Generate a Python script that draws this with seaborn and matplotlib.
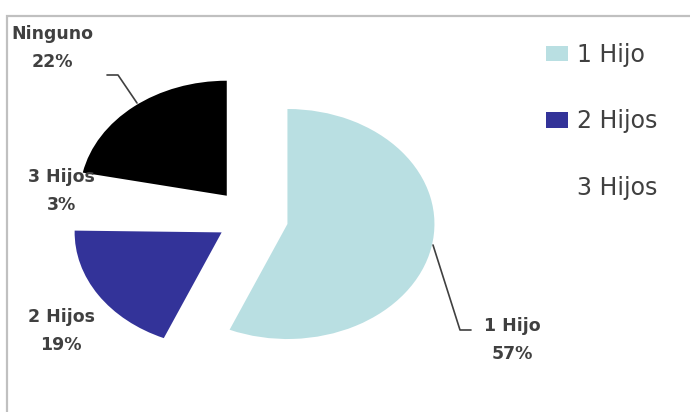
import matplotlib
matplotlib.use("Agg")
import matplotlib.pyplot as plt
import seaborn as sns
from matplotlib.lines import Line2D
from matplotlib.patches import Rectangle

categories = ["1 Hijo", "2 Hijos", "3 Hijos", "Ninguno"]
values = [57, 19, 3, 22]
pct_labels = ["57%", "19%", "3%", "22%"]
colors = ["#b9dfe2", "#333399", "#ffffff", "#000000"]
explode = [0.26, 0.23, 0.23, 0.25]

W, H = 690, 412


def px(x, y):
    # pixel position (from top-left) -> figure fraction
    return x / W, 1 - y / H


sns.set_theme(style="white")
plt.rcParams['font.family'] = ['DejaVu Sans']

fig = plt.figure(figsize=(W / 100, H / 100), dpi=100)
fig.patch.set_facecolor("white")

# outer chart frame (cut off at right and bottom)
fig.add_artist(Rectangle(px(7, 430), (700 - 7) / W, (430 - 16) / H,
                         transform=fig.transFigure, fill=False,
                         edgecolor="#c0c0c0", linewidth=1.6))

ax = fig.add_axes([0, 0, 1, 1])
wedges, _ = ax.pie(values, colors=colors, startangle=90, counterclock=False,
                   explode=explode, wedgeprops=dict(linewidth=0))
# the reference pie is stretched horizontally
cx, cy, rx, ry = 250, 218, 147, 115
ax.set_aspect('auto')
ax.set_xlim(-cx / rx, (W - cx) / rx)
ax.set_ylim(-(H - cy) / ry, cy / ry)
ax.axis('off')

txt = "#404040"
label_pos = {"1 Hijo": (512, 340), "2 Hijos": (61, 331),
             "3 Hijos": (61, 191), "Ninguno": (52, 48)}
for cat, pct in zip(categories, pct_labels):
    x, y = label_pos[cat]
    fig.text(*px(x, y), f"{cat}\n{pct}", ha="center", va="center",
             fontsize=12.5, fontweight="bold", color=txt, linespacing=1.75)

# leader lines
fig.add_artist(Line2D([107 / W, 118 / W, 137 / W],
                      [1 - 75 / H, 1 - 75 / H, 1 - 103 / H],
                      transform=fig.transFigure, color="#404040", lw=1.2))
fig.add_artist(Line2D([433 / W, 460 / W, 471 / W],
                      [1 - 245 / H, 1 - 330 / H, 1 - 330 / H],
                      transform=fig.transFigure, color="#404040", lw=1.2))

leg = ax.legend(wedges[:3], categories[:3], loc="upper left",
                bbox_to_anchor=px(534, 31), bbox_transform=fig.transFigure,
                frameon=False, fontsize=17, handlelength=0.95, handleheight=0.65,
                handletextpad=0.38, labelspacing=1.8, borderpad=0)
for t in leg.get_texts():
    t.set_color(txt)

fig.savefig("out.png", dpi=100)
